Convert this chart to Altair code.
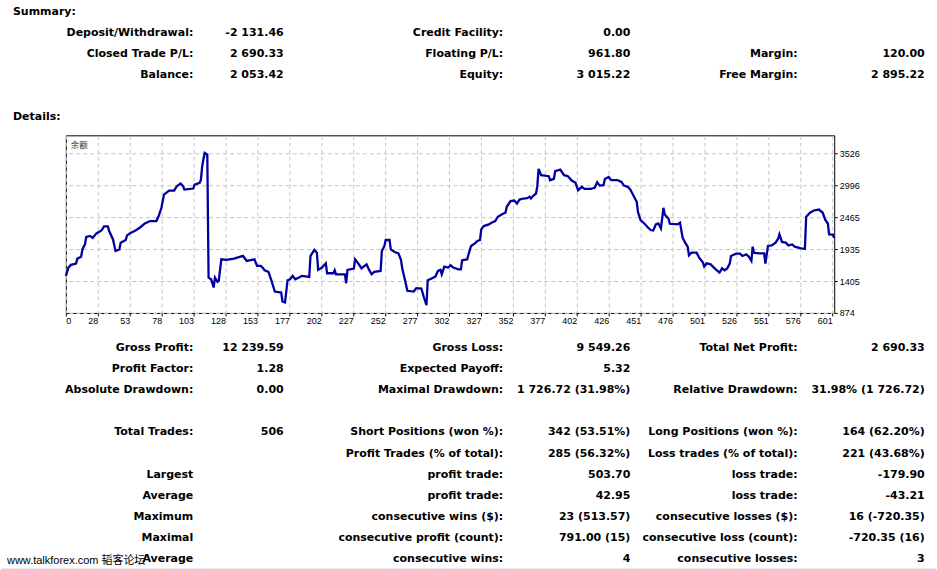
import altair as alt
import pandas as pd

# ---------------- data ----------------
TRADE = [0, 2, 4, 8, 9, 12, 13, 15, 16, 19, 21, 24, 28, 30, 33, 34, 37, 39, 42, 43, 47, 48, 51, 54, 58, 62, 66, 71,
         73, 75, 77, 81, 85, 87, 90, 92, 93, 100, 101, 105, 106, 107, 108, 109, 111, 112, 114, 116, 117, 119, 120,
         122, 126, 132, 139, 142, 144, 148, 150, 153, 155, 156, 159, 161, 163, 164, 169, 170, 172, 174, 176, 178,
         180, 183, 185, 191, 192, 195, 197, 198, 201, 204, 205, 210, 211, 212, 219, 220, 221, 226, 227, 229, 232,
         235, 236, 238, 240, 242, 247, 248, 250, 251, 254, 255, 258, 261, 263, 264, 266, 268, 273, 275, 279, 281,
         283, 284, 287, 290, 292, 294, 295, 297, 300, 302, 304, 308, 310, 311, 315, 316, 318, 321, 323, 325, 326,
         328, 332, 334, 337, 339, 343, 345, 346, 349, 352, 354, 356, 359, 362, 364, 365, 367, 369, 370, 371, 373,
         379, 380, 383, 384, 388, 391, 394, 397, 400, 402, 405, 407, 412, 415, 417, 419, 422, 423, 426, 428, 433,
         436, 438, 441, 443, 445, 448, 449, 451, 454, 457, 459, 461, 463, 465, 467, 469, 470, 473, 474, 480, 482,
         484, 486, 488, 489, 491, 495, 497, 500, 501, 503, 506, 508, 510, 513, 515, 517, 519, 521, 522, 526, 529,
         531, 534, 536, 538, 539, 540, 544, 548, 549, 551, 554, 557, 559, 560, 562, 565, 567, 570, 572, 577, 580,
         581, 584, 587, 591, 594, 596, 598, 599, 602, 603]
BALANCE = [1491, 1628, 1673, 1694, 1777, 1810, 1931, 2014, 2137, 2154, 2120, 2197, 2246, 2313, 2313, 2236, 2097,
           1905, 1931, 2043, 2087, 2164, 2208, 2236, 2291, 2362, 2402, 2402, 2495, 2623, 2843, 2909, 2909, 2982,
           3025, 2982, 2926, 2943, 3009, 3037, 3092, 3314, 3435, 3534, 3506, 1462, 1434, 1297, 1462, 1391, 1408,
           1766, 1756, 1777, 1822, 1739, 1749, 1766, 1656, 1656, 1612, 1583, 1557, 1434, 1297, 1230, 1214, 1065,
           1048, 1418, 1434, 1491, 1434, 1462, 1491, 1474, 1822, 1922, 1877, 1590, 1628, 1699, 1534, 1534, 1583,
           1517, 1517, 1368, 1590, 1612, 1766, 1711, 1617, 1666, 1683, 1590, 1517, 1557, 1573, 1905, 1988, 2087,
           2087, 1931, 1888, 1865, 1756, 1612, 1434, 1242, 1230, 1285, 1280, 1131, 1003, 1418, 1446, 1479, 1573,
           1590, 1517, 1645, 1628, 1666, 1628, 1600, 1600, 1749, 1766, 1849, 1988, 2031, 2071, 2087, 2263, 2319,
           2346, 2374, 2402, 2474, 2523, 2540, 2639, 2734, 2744, 2694, 2760, 2777, 2783, 2805, 2777, 2827, 2860,
           2982, 3269, 3165, 3148, 3082, 3103, 3231, 3257, 3165, 3148, 3075, 3037, 2916, 2971, 2938, 2938, 2955,
           3049, 2992, 2999, 3103, 3137, 3082, 3082, 3054, 2992, 2971, 2926, 2843, 2722, 2551, 2419, 2362, 2291,
           2253, 2247, 2346, 2362, 2280, 2623, 2512, 2440, 2357, 2346, 2374, 2125, 2043, 1976, 1832, 1877, 1877,
           1794, 1711, 1645, 1699, 1683, 1640, 1600, 1545, 1617, 1583, 1612, 1694, 1822, 1860, 1860, 1822, 1849,
           1810, 1739, 1976, 1877, 1866, 1866, 1694, 1988, 1998, 2043, 2109, 2180, 2054, 2043, 1998, 2014, 1976,
           1948, 1943, 2474, 2540, 2578, 2594, 2540, 2419, 2362, 2180, 2175, 2125]

X_TICK_LABELS = ["0", "28", "53", "78", "103", "128", "153", "177", "202", "227", "252", "277", "302",
                 "327", "352", "377", "402", "426", "451", "476", "501", "526", "551", "576", "601"]
Y_TICK_VALUES = [874, 1405, 1935, 2465, 2996, 3526]
X_MAX = 603
Y_DOMAIN = [874, 3828]
SERIES_NAME = "余额"

SUM_TITLE = "Summary:"
DET_TITLE = "Details:"
SUM_L1 = ["Deposit/Withdrawal:", "Closed Trade P/L:", "Balance:"]
SUM_V1 = ["-2 131.46", "2 690.33", "2 053.42"]
SUM_L2 = ["Credit Facility:", "Floating P/L:", "Equity:"]
SUM_V2 = ["0.00", "961.80", "3 015.22"]
SUM_L3 = ["", "Margin:", "Free Margin:"]
SUM_V3 = ["", "120.00", "2 895.22"]

DET_L1 = ["Gross Profit:", "Profit Factor:", "Absolute Drawdown:", "", "Total Trades:", "",
          "Largest", "Average", "Maximum", "Maximal", "Average"]
DET_V1 = ["12 239.59", "1.28", "0.00", "", "506", "", "", "", "", "", ""]
DET_L2 = ["Gross Loss:", "Expected Payoff:", "Maximal Drawdown:", "", "Short Positions (won %):",
          "Profit Trades (% of total):", "profit trade:", "profit trade:", "consecutive wins ($):",
          "consecutive profit (count):", "consecutive wins:"]
DET_V2 = ["9 549.26", "5.32", "1 726.72 (31.98%)", "", "342 (53.51%)", "285 (56.32%)", "503.70", "42.95",
          "23 (513.57)", "791.00 (15)", "4"]
DET_L3 = ["Total Net Profit:", "", "Relative Drawdown:", "", "Long Positions (won %):",
          "Loss trades (% of total):", "loss trade:", "loss trade:", "consecutive losses ($):",
          "consecutive loss (count):", "consecutive losses:"]
DET_V3 = ["2 690.33", "", "31.98% (1 726.72)", "", "164 (62.20%)", "221 (43.68%)", "-179.90", "-43.21",
          "16 (-720.35)", "-720.35 (16)", "3"]
WATERMARK = "www.talkforex.com 韬客论坛"

# ---------------- layout ----------------
PAGE_W = 937
TOP_H = 134
PLOT_L = 59               # spacer width (plot frame lands at ~63 px)
PLOT_W = 770
PLOT_H = 178
AXIS_EXT = 191            # extent of the chart block incl. x labels
BOT_TOP = TOP_H + AXIS_EXT
BOT_H = 569 - BOT_TOP
GRID_PX = 32
COL_RIGHT = [192.7, 283.3, 503.3, 630.7, 798.3, 925.7]
TITLE_X = 12
TEXT_FONT = "DejaVu Sans"
TEXT_SIZE = 11
ROW_H_BOT = 21.2
FIRST_ROW_BOT = 346.0


def records(cols, first_row):
    recs = []
    for ci, arr in enumerate(cols):
        for ri, t in enumerate(arr):
            if t:
                recs.append({"text": t, "row": first_row + ri, "ax": COL_RIGHT[ci]})
    return pd.DataFrame(recs)


def text_chart(df_right, df_left, height, first_y, row_h, extra=None):
    ydom = [-first_y / row_h, (height - first_y) / row_h]
    xs = alt.Scale(domain=[0, PAGE_W], nice=False, zero=False)
    ys = alt.Scale(domain=ydom, nice=False, zero=False, reverse=True)
    layers = []
    for df, al in ((df_right, "right"), (df_left, "left")):
        if len(df):
            layers.append(alt.Chart(df).mark_text(
                align=al, baseline="middle", font=TEXT_FONT, fontSize=TEXT_SIZE, fontWeight="bold", color="#000"
            ).encode(x=alt.X("ax:Q", scale=xs, axis=None), y=alt.Y("row:Q", scale=ys, axis=None), text="text:N"))
    if extra is not None:
        layers += extra(xs, ys)
    return alt.layer(*layers).properties(width=PAGE_W, height=height)


# top block
top_right = records([SUM_L1, SUM_V1, SUM_L2, SUM_V2, SUM_L3, SUM_V3], 1)
top_left = pd.DataFrame({"text": [SUM_TITLE, DET_TITLE], "row": [0, 5], "ax": [TITLE_X, TITLE_X]})
top = text_chart(top_right, top_left, TOP_H, 11.8, 20.95)

# bottom block
bot_right = records([DET_L1, DET_V1, DET_L2, DET_V2, DET_L3, DET_V3], 0)


def bottom_extra(xs, ys):
    wm = alt.Chart(pd.DataFrame({"text": [WATERMARK], "row": [10.08], "ax": [6]})).mark_text(
        align="left", baseline="middle", font="Liberation Sans, Noto Sans CJK SC", fontSize=11, color="#000"
    ).encode(x=alt.X("ax:Q", scale=xs, axis=None), y=alt.Y("row:Q", scale=ys, axis=None), text="text:N")
    edge = alt.Chart(pd.DataFrame({"row": [10.47], "x0": [0], "x1": [PAGE_W]})).mark_rule(
        color="#cdd6e2", strokeWidth=1.5
    ).encode(x=alt.X("x0:Q", scale=xs, axis=None), x2="x1:Q", y=alt.Y("row:Q", scale=ys, axis=None))
    return [wm, edge]


bottom = text_chart(bot_right, top_left.iloc[0:0], BOT_H, FIRST_ROW_BOT - BOT_TOP, ROW_H_BOT, bottom_extra)

# line chart
x_step = X_MAX * GRID_PX / PLOT_W
tick_vals = [i * x_step for i in range(len(X_TICK_LABELS))]
label_expr = "[" + ",".join("'%s'" % s for s in X_TICK_LABELS) + "][round(datum.value / %.6f)]" % x_step
line_df = pd.DataFrame({"trade": TRADE, "balance": BALANCE})

line = alt.Chart(line_df).mark_line(color="#0000a0", strokeWidth=2.3).encode(
    x=alt.X("trade:Q", scale=alt.Scale(domain=[0, X_MAX], nice=False, zero=False),
            axis=alt.Axis(values=tick_vals, labelExpr=label_expr, title=None, domain=False,
                          grid=True, gridDash=[4, 3], gridColor="#c4c4c4", gridWidth=1,
                          tickSize=3, tickColor="#000", labelPadding=1,
                          labelAlign={"condition": {"test": "datum.value < 1", "value": "left"}, "value": "right"},
                          labelFont="Liberation Sans", labelFontSize=9, labelColor="#000")),
    y=alt.Y("balance:Q", scale=alt.Scale(domain=Y_DOMAIN, nice=False, zero=False),
            axis=alt.Axis(orient="right", values=Y_TICK_VALUES, format="d", title=None, domain=False,
                          grid=True, gridDash=[4, 3], gridColor="#c4c4c4", gridWidth=1,
                          tickSize=3, tickColor="#000", labelPadding=2,
                          labelFont="Liberation Sans", labelFontSize=9, labelColor="#000")),
)
legend = alt.Chart(pd.DataFrame({"name": [SERIES_NAME]})).mark_text(
    align="left", baseline="middle", font="Noto Sans CJK SC", fontSize=8.5, color="#333"
).encode(x=alt.value(5), y=alt.value(10), text="name:N")

plot = alt.layer(line, legend).properties(
    width=PLOT_W, height=PLOT_H, view=alt.ViewBackground(stroke="#000", strokeWidth=1)
)
spacer = alt.Chart(pd.DataFrame({"v": [0]})).mark_rect(opacity=0).encode(
    x=alt.value(0), x2=alt.value(PLOT_L), y=alt.value(0), y2=alt.value(PLOT_H)
).properties(width=PLOT_L, height=PLOT_H)

middle = alt.hconcat(spacer, plot, spacing=0)

chart = alt.vconcat(top, middle, bottom, spacing=0).properties(
    padding=0, background="#ffffff"
).configure_view(stroke=None)

chart.save("out.html", embed_options={"renderer": "svg", "actions": False})
